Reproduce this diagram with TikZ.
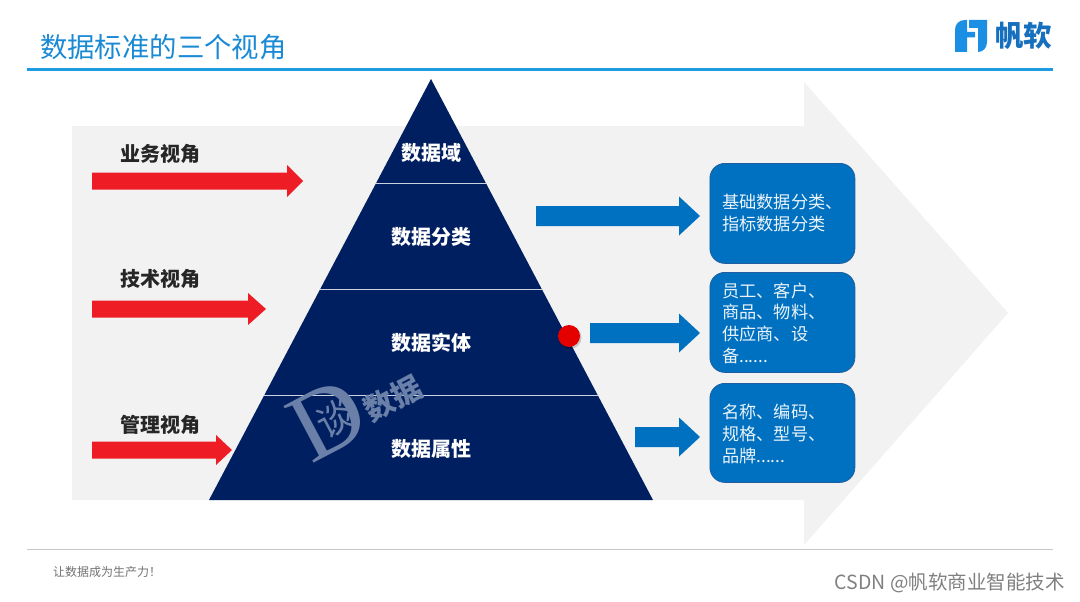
\documentclass[tikz,border=0pt]{standalone}
\usepackage{fontspec}
\setmainfont{Noto Sans CJK SC}
\newfontfamily\serifd{Liberation Serif}
\definecolor{navy}{HTML}{001F60}
\definecolor{paneblue}{HTML}{0070C0}
\definecolor{paneedge}{HTML}{1F5F9F}
\definecolor{redarrow}{HTML}{EE1C25}
\definecolor{titleblue}{HTML}{1A8AD4}
\definecolor{rulerblue}{HTML}{1E9BE2}
\definecolor{bgarrow}{HTML}{F2F2F3}
\definecolor{logoa}{HTML}{1B8FE3}
\definecolor{logot}{HTML}{1670BE}
\definecolor{wm}{HTML}{6A80A8}
\newcommand{\fs}[2]{\fontsize{#1}{#2}\selectfont}
\tikzset{
  redarr/.style={fill=redarrow,draw=none},
  bluearr/.style={fill=paneblue,draw=none},
  persp/.style={font=\bfseries\fs{20}{24},text=black!85,inner sep=0pt},
  level/.style={font=\bfseries\fs{20}{24},text=white,inner sep=0pt},
  infobox/.style={fill=paneblue,draw=paneedge,line width=0.8pt,rounded corners=15pt,anchor=north west,inner sep=0pt},
  infotext/.style={anchor=west,align=left,text=white!92!paneblue,font=\fs{17.2}{21.7},inner sep=0pt},
  tier/.style={draw=white!80!navy,line width=0.9pt},
  wmk/.style={text=wm,inner sep=0pt,rotate=28}
}
% #1 style, #2 x tail, #3 x head base, #4 x tip, #5 y centre, #6 shaft half, #7 head half
\newcommand{\blockarrow}[7]{\fill[#1] (#2,#5-#6) -- (#3,#5-#6) -- (#3,#5-#7) -- (#4,#5) -- (#3,#5+#7) -- (#3,#5+#6) -- (#2,#5+#6) -- cycle;}
\begin{document}
\begin{tikzpicture}[x=1pt,y=-1pt]
\useasboundingbox (0,0) rectangle (1080,602);
\fill[white] (0,0) rectangle (1080,602);
% background arrow
\fill[bgarrow] (72,126) -- (804,126) -- (804,82) -- (1008,313) -- (804,545) -- (804,500) -- (72,500) -- cycle;
% title
\node[anchor=west,inner sep=0pt,text=titleblue,font=\fs{27.4}{30}] (title) at (40,47) {数据标准的三个视角};
\draw[rulerblue,line width=3pt] (27,70) -- (1053,70);
% logo
\fill[logoa] (955,52) -- (955,30) .. controls (955,24) and (959,20) .. (965,20) -- (967,20) -- (967,32) -- (975,32) -- (975,37.5) -- (967,37.5) -- (967,52) -- cycle;
\fill[logoa] (969,20) -- (987,20) -- (987,42) .. controls (987,48) and (983,52) .. (978,52) -- (978,28) -- (969,28) -- cycle;
\node[anchor=west,inner sep=0pt,text=logot,font=\bfseries\fs{28.5}{30}] (logotext) at (995,36) {帆软};
% pyramid
\fill[navy] (431,79) -- (653,500) -- (209,500) -- cycle;
\draw[tier] (376.2,183) -- (485.8,183);
\draw[tier] (320.3,289) -- (541.7,289);
\draw[tier] (264.4,395) -- (597.6,395);
\node[level] (l1) at (431,153) {数据域};
\node[level] (l2) at (431,237) {数据分类};
\node[level] (l3) at (431,343) {数据实体};
\node[level] (l4) at (431,449) {数据属性};
% watermark
\node[wmk,font=\serifd\fs{98}{100}] (wmd) at (328,420) {D};
\node[wmk,font=\fs{37}{40}] (wmt) at (335,418) {谈};
\node[wmk,font=\bfseries\fs{30}{32}] (wms) at (393,398) {数据};
% perspective labels
\node[persp] (p1) at (160,154) {业务视角};
\node[persp] (p2) at (160,279) {技术视角};
\node[persp] (p3) at (160,425) {管理视角};
\blockarrow{redarr}{92}{287}{303}{181}{8.5}{16}
\blockarrow{redarr}{92}{248}{266}{309}{8.5}{16}
\blockarrow{redarr}{92}{216}{232}{450}{8.5}{15}
% blue arrows
\blockarrow{bluearr}{536}{679}{700}{216}{10}{19.5}
\blockarrow{bluearr}{590}{679}{700}{333}{10}{19.5}
\blockarrow{bluearr}{635}{679}{700}{437}{10}{19.5}
% red dot
\fill[black,opacity=0.18] (570,337.5) circle (11.5);
\fill[red!90!black] (569,336) circle (11) node (dot) {};
% boxes
\node[infobox,minimum width=145pt,minimum height=100pt] (b1) at (709.5,163) {};
\node[infobox,minimum width=145pt,minimum height=100pt] (b2) at (709.5,272) {};
\node[infobox,minimum width=145pt,minimum height=99pt] (b3) at (709.5,383) {};
\node[infotext] (t1) at (722,213) {基础数据分类、\\指标数据分类};
\node[infotext] (t2) at (722,323) {员工、客户、\\商品、物料、\\供应商、设\\备......};
\node[infotext] (t3) at (722,434) {名称、编码、\\规格、型号、\\品牌......};
% footer
\draw[black!22,line width=1pt] (27,549.5) -- (1053,549.5);
\node[anchor=west,inner sep=0pt,text=black!55,font=\fs{12}{13}] (foot) at (53,572) {让数据成为生产力！};
\node[anchor=east,inner sep=0pt,text=black!50,font=\fs{19.5}{22}] (csdn) at (1065,583) {CSDN @帆软商业智能技术};
\end{tikzpicture}
\end{document}
